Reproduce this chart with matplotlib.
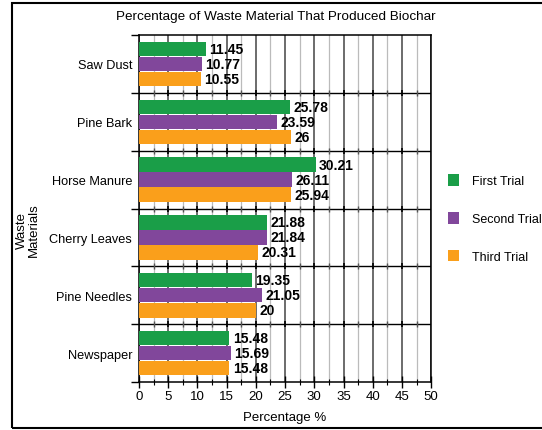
import matplotlib.pyplot as plt
import numpy as np
from matplotlib.patches import Rectangle

plt.rcParams['font.family'] = ['Liberation Sans', 'DejaVu Sans']

# materiali e percentuali delle tre prove
materials = ['Saw Dust', 'Pine Bark', 'Horse Manure', 'Cherry Leaves', 'Pine Needles', 'Newspaper']
first_trial = [11.45, 25.78, 30.21, 21.88, 19.35, 15.48]
second_trial = [10.77, 23.59, 26.11, 21.84, 21.05, 15.69]
third_trial = [10.55, 26, 25.94, 20.31, 20, 15.48]
trial_names = ['First Trial', 'Second Trial', 'Third Trial']
colors = ['#1a9e48', '#81479b', '#fa9f1b']

fig = plt.figure(figsize=(5.42, 4.31), dpi=100)
ax = fig.add_axes([0.2565, 0.1114, 0.539, 0.805])

# cornice esterna
fig.patches.append(Rectangle((0.022, 0.005), 1.0, 0.986, transform=fig.transFigure,
                             fill=False, edgecolor='black', linewidth=1.5))

y = np.arange(len(materials))
h = 0.25
series = [first_trial, second_trial, third_trial]
offsets = [-0.26, 0, 0.26]
handles = []
for vals, off, col, name in zip(series, offsets, colors, trial_names):
    b = ax.barh(y + off, vals, height=h, color=col, label=name, zorder=3)
    handles.append(b)
    for yi, v in zip(y, vals):
        ax.annotate('%g' % v, (v, yi + off), xytext=(2.5, 0), textcoords='offset points',
                    va='center', ha='left', fontsize=10, fontweight='bold', zorder=4)

ax.set_xlim(0, 50)
ax.set_ylim(len(materials) - 0.5, -0.5)

# griglia verticale
ax.set_xticks(np.arange(0, 51, 5))
ax.set_xticks(np.arange(2.5, 50, 5), minor=True)
ax.grid(axis='x', which='major', color='#444444', linewidth=1.1, zorder=1)
ax.grid(axis='x', which='minor', color='#bbbbbb', linewidth=0.9, zorder=1)

# separatori tra le categorie
bounds = np.arange(0.5, len(materials) - 0.5, 1)
for bd in bounds:
    ax.axhline(bd, color='black', linewidth=1.0, zorder=2)
    ax.plot(np.arange(5, 50, 5), [bd] * 9, '|', color='black', ms=5, mew=1.2, zorder=2)
    ax.plot(np.arange(2.5, 50, 5), [bd] * 10, '|', color='#555555', ms=4, mew=1.0, zorder=2)

ax.set_yticks(np.arange(-0.5, len(materials), 1))
ax.set_yticklabels([])
ax.set_yticks(y, minor=True)
ax.set_yticklabels(materials, minor=True, fontsize=9.2)
ax.tick_params(axis='y', which='minor', length=0, pad=5)
ax.tick_params(axis='y', which='major', direction='out', length=6, width=1)
ax.tick_params(axis='x', which='major', direction='inout', length=8, width=1, labelsize=9.5, pad=2)
ax.tick_params(axis='x', which='minor', direction='inout', length=5, width=0.8)

for s in ax.spines.values():
    s.set_linewidth(1.1)

fig.text(0.509, 0.96, 'Percentage of Waste Material That Produced Biochar', ha='center', va='center', fontsize=9.7)
fig.text(0.525, 0.03, 'Percentage %', ha='center', va='center', fontsize=9.5)
fig.text(0.052, 0.466, 'Waste\nMaterials', ha='center', va='center', rotation=90, fontsize=9.5, linespacing=1.0)

fig.legend(handles=handles, labels=trial_names, loc='center left',
           bbox_to_anchor=(0.806, 0.49), frameon=False, fontsize=9,
           handlelength=0.9, handleheight=1.0, handletextpad=1.0, labelspacing=2.0)

plt.savefig('out.png', dpi=100)
